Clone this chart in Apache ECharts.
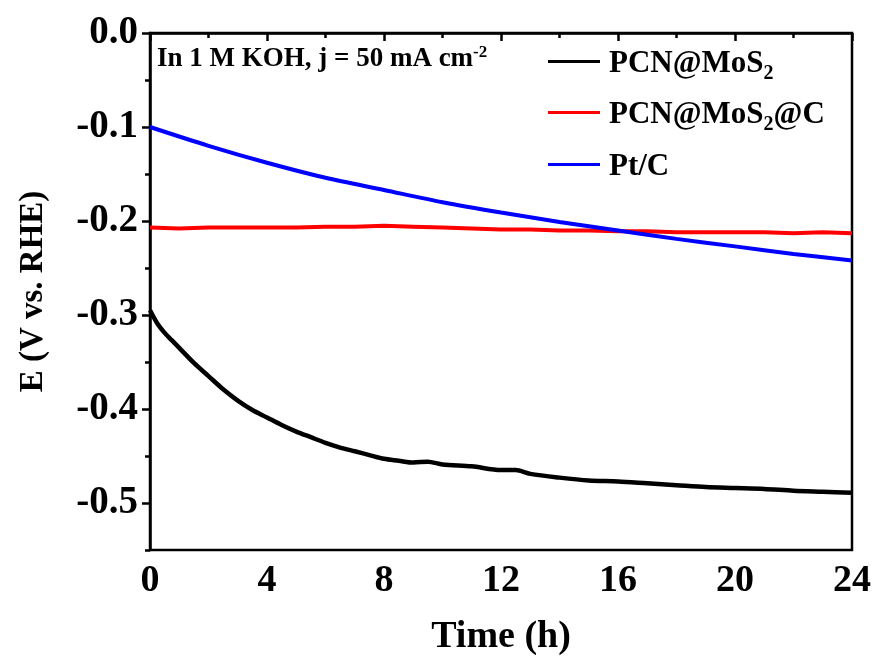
<!DOCTYPE html>
<html>
<head>
<meta charset="UTF-8">
<script type="text/javascript" src="https://cdn.jsdelivr.net/npm/echarts@6/dist/echarts.min.js"></script>
<title>Stability</title>
<style>
	html, body { margin: 0; padding: 0; background: #fff; }
	#main { width: 876px; height: 664px; }
</style>
</head>
<body>
<div id="main"></div>
<script type="text/javascript">
	// time (h) and potential (V vs. RHE)
	var tPCN = [0, 0.25, 0.5, 0.75, 1, 1.5, 2, 2.5, 3, 3.5, 4, 4.5, 5, 5.5, 6, 6.5, 7, 7.5, 8, 8.5, 9, 9.5, 10, 11, 12, 12.5, 13, 14, 15, 16, 17, 18, 19, 20, 21, 22, 23, 24];
	var vPCN = [-0.295, -0.309, -0.319, -0.327, -0.335, -0.351, -0.365, -0.379, -0.391, -0.401, -0.409, -0.417, -0.424, -0.430, -0.436, -0.441, -0.445, -0.449, -0.453, -0.455, -0.457, -0.456, -0.459, -0.461, -0.465, -0.465, -0.469, -0.473, -0.476, -0.477, -0.479, -0.481, -0.483, -0.484, -0.485, -0.487, -0.488, -0.489];

	var tPCNC = [0, 1, 2, 3, 4, 5, 6, 7, 8, 9, 10, 11, 12, 13, 14, 15, 16, 17, 18, 19, 20, 21, 22, 23, 24];
	var vPCNC = [-0.207, -0.208, -0.207, -0.207, -0.207, -0.207, -0.206, -0.206, -0.205, -0.206, -0.207, -0.208, -0.209, -0.209, -0.210, -0.210, -0.211, -0.211, -0.212, -0.212, -0.212, -0.212, -0.213, -0.212, -0.213];

	var tPt = [0, 2, 4, 6, 8, 10, 12, 14, 16, 18, 20, 22, 24];
	var vPt = [-0.100, -0.120, -0.138, -0.154, -0.167, -0.180, -0.191, -0.201, -0.210, -0.219, -0.227, -0.235, -0.242];

	var names = ['PCN@MoS2', 'PCN@MoS2@C', 'Pt/C'];
	var colors = ['#000000', '#ff0000', '#0000ff'];

	function pairs(t, v){
		var out = [];
		for (var i = 0; i < t.length; i++) out.push([t[i], v[i]]);
		return out;
	}

	var font = '"Liberation Serif", "Times New Roman", serif';
	var myChart = echarts.init(document.getElementById('main'));

	var legendRich = {
		n: { fontFamily: font, fontWeight: 'bold', fontSize: 31, color: '#000', lineHeight: 40 },
		s: { fontFamily: font, fontWeight: 'bold', fontSize: 20, color: '#000', lineHeight: 20, verticalAlign: 'bottom' }
	};
	function legendText(name){
		if (name === 'PCN@MoS2') return '{n|PCN@MoS}{s|2}';
		if (name === 'PCN@MoS2@C') return '{n|PCN@MoS}{s|2}{n|@C}';
		return '{n|' + name + '}';
	}
	var legendTops = [48, 99, 151];
	var legends = [];
	for (var k = 0; k < names.length; k++) {
		legends.push({
			data: [names[k]],
			left: 548,
			top: legendTops[k],
			icon: 'rect',
			itemWidth: 52,
			itemHeight: 3,
			itemGap: 0,
			padding: 0,
			selectedMode: false,
			formatter: legendText,
			textStyle: { padding: [4, 0, 0, 4], rich: legendRich }
		});
	}

	var option = {
		animation: false,
		backgroundColor: '#fff',
		title: {
			left: 157,
			top: 44,
			padding: 0,
			text: '{n|In 1 M KOH, j = 50 mA cm}{p|-2}',
			textStyle: {
				rich: {
					n: { fontFamily: font, fontWeight: 'bold', fontSize: 27, color: '#000', lineHeight: 30 },
					p: { fontFamily: font, fontWeight: 'bold', fontSize: 17, color: '#000', lineHeight: 16, verticalAlign: 'top' }
				}
			}
		},
		legend: legends,
		grid: {
			left: 150, right: 24, top: 33, bottom: 114,
			show: true,
			borderColor: '#000',
			borderWidth: 2.5,
			outerBoundsMode: 'none'
		},
		xAxis: {
			type: 'value',
			min: 0, max: 24, interval: 4,
			name: 'Time (h)',
			nameLocation: 'middle',
			nameGap: 68,
			nameTextStyle: { fontFamily: font, fontWeight: 'bold', fontSize: 38, color: '#000' },
			axisLine: { show: true, lineStyle: { color: '#000', width: 2.5 } },
			axisTick: { show: true, inside: false, length: 8, lineStyle: { color: '#000', width: 2.5 } },
			minorTick: { show: true, splitNumber: 2, length: 5, lineStyle: { color: '#000', width: 2.5 } },
			axisLabel: { margin: 12, fontFamily: font, fontWeight: 'bold', fontSize: 38, color: '#000' },
			splitLine: { show: false },
			minorSplitLine: { show: false }
		},
		yAxis: [
			{
				type: 'value',
				min: -0.55, max: 0, splitNumber: 5,
				name: 'E (V vs. RHE)',
				nameLocation: 'middle',
				nameGap: 100,
				nameTextStyle: { fontFamily: font, fontWeight: 'bold', fontSize: 33, color: '#000' },
				axisLine: { show: true, lineStyle: { color: '#000', width: 2.5 } },
				axisTick: { show: true, inside: false, length: 8, lineStyle: { color: '#000', width: 2.5 } },
				axisLabel: {
					margin: 12, showMinLabel: false,
					fontFamily: font, fontWeight: 'bold', fontSize: 39, color: '#000',
					formatter: function(v){ return v.toFixed(1); }
				},
				splitLine: { show: false }
			},
			{
				// short ticks every 0.05
				type: 'value',
				position: 'left',
				min: -0.55, max: 0, interval: 0.05,
				axisLine: { show: false },
				axisTick: { show: true, inside: false, length: 5, lineStyle: { color: '#000', width: 2.5 } },
				axisLabel: { show: false },
				splitLine: { show: false }
			}
		],
		series: [
			{
				name: names[0], type: 'line', data: pairs(tPCN, vPCN),
				showSymbol: false, smooth: 0.3, z: 3,
				lineStyle: { color: colors[0], width: 4.5 }, itemStyle: { color: colors[0] }
			},
			{
				name: names[1], type: 'line', data: pairs(tPCNC, vPCNC),
				showSymbol: false, z: 2,
				lineStyle: { color: colors[1], width: 4 }, itemStyle: { color: colors[1] }
			},
			{
				name: names[2], type: 'line', data: pairs(tPt, vPt),
				showSymbol: false, smooth: 0.3, z: 4,
				lineStyle: { color: colors[2], width: 4 }, itemStyle: { color: colors[2] }
			}
		]
	};
	myChart.setOption(option);
</script>
</body>
</html>
